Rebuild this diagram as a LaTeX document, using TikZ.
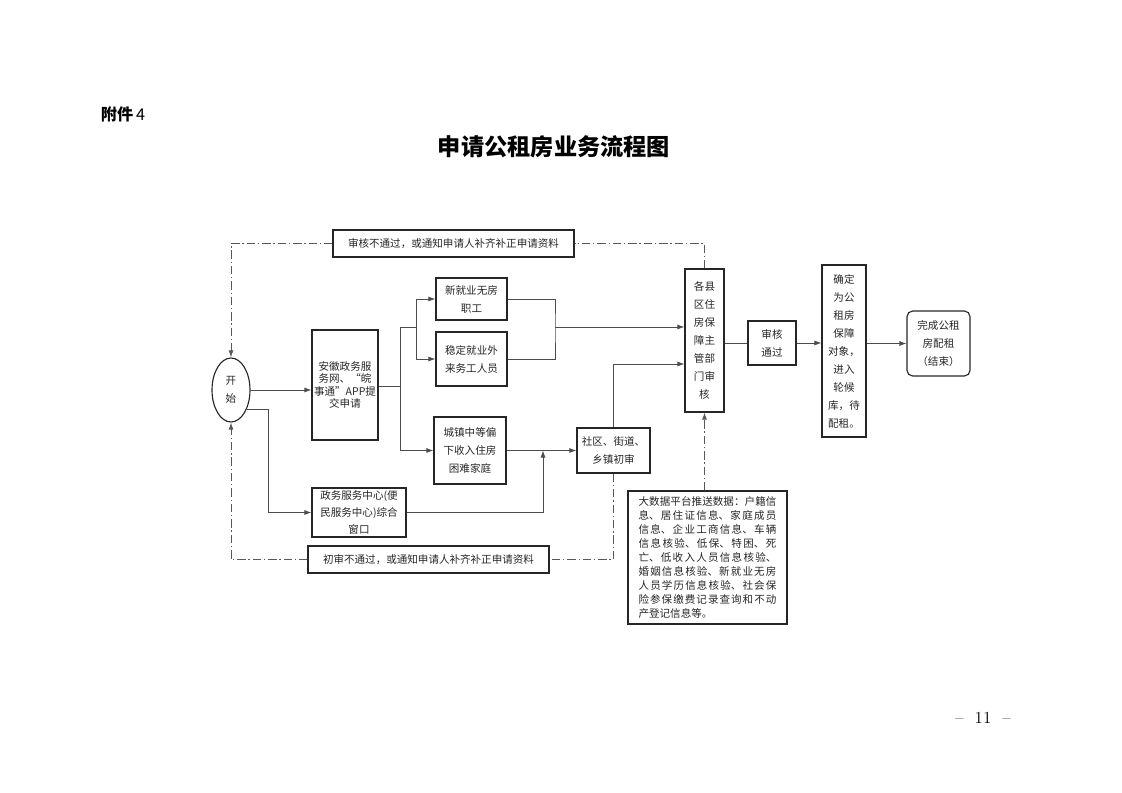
\documentclass[tikz,border=0pt]{standalone}
\usepackage{fontspec}
\newfontfamily\cjk{Noto Sans CJK SC}
\usetikzlibrary{shapes.geometric,arrows.meta}
\newcommand\cjkspread{\XeTeXlinebreaklocale "zh"\XeTeXlinebreakskip=0pt plus 3pt\relax}
\begin{document}
\begin{tikzpicture}[x=0.025cm,y=-0.025cm,
	conn/.style={draw=black!70,line width=0.6pt},
	arr/.style={conn,-{Latex[length=5pt,width=3.6pt]}},
	dashln/.style={draw=black!65,line width=0.6pt,dash pattern=on 6pt off 2pt on 1pt off 2pt},
	box/.style={draw=black!85,line width=0.8pt,inner sep=0pt,align=center,text=black!85,font=\cjk\fontsize{7.5pt}{12.8pt}\selectfont},
	wd/.style={minimum width=#1*0.025cm},
	ht/.style={minimum height=#1*0.025cm}]
	\useasboundingbox (0,0) rectangle (1122,793);
	% heading and page number
	\node[anchor=west,font=\cjk\bfseries\fontsize{11.5pt}{14pt}\selectfont] (fujian) at (96,114) {附件\,{\mdseries 4}};
	\node[font=\cjk\bfseries\fontsize{16.5pt}{20pt}\selectfont] (title) at (554,147) {申请公租房业务流程图};
	\node[font=\fontsize{12pt}{14pt}\selectfont] (page) at (983,718) {\textendash\ \ 11\ \ \textendash};
	% boxes
	\node[box,ellipse,wd=38,ht=64] (start) at (231,390) {开\\始};
	\node[box,wd=66,ht=110,font=\cjk\fontsize{7.5pt}{9pt}\selectfont] (anhui) at (345,385) {安徽政务服\\务网、“皖\\事通”APP提\\交申请};
	\node[box,wd=71,ht=42] (xinjy) at (471.5,299) {新就业无房\\职工};
	\node[box,wd=71,ht=54] (wending) at (471.5,359) {稳定就业外\\来务工人员};
	\node[box,wd=72,ht=67] (chengzhen) at (470,450.5) {城镇中等偏\\下收入住房\\困难家庭};
	\node[box,wd=73,ht=45] (shequ) at (613.5,450.5) {社区、街道、\\乡镇初审};
	\node[box,wd=94,ht=49,font=\cjk\fontsize{7.5pt}{12pt}\selectfont] (zhengwu) at (359,512.5) {政务服务中心(便\\民服务中心)综合\\窗口};
	\node[box,wd=39,ht=143] (gexian) at (704.5,340.5) {各县\\区住\\房保\\障主\\管部\\门审\\核};
	\node[box,wd=48,ht=44] (tongguo) at (772,343) {审核\\通过};
	\node[box,wd=44,ht=172] (queding) at (844,351) {确定\\为公\\租房\\保障\\对象，\\进入\\轮候\\库，待\\配租。};
	\node[box,wd=63,ht=65,rounded corners=4pt] (wancheng) at (938.5,343.5) {完成公租\\房配租\\（结束）};
	\node[box,wd=159,ht=133,text width=98pt,align=justify,font=\cjk\fontsize{7.5pt}{10pt}\selectfont] (dashuju) at (707.5,557.5) {\cjkspread 大数据平台推送数据：户籍信\linebreak 息、居住证信息、家庭成员\linebreak 信息、企业工商信息、车辆\linebreak 信息核验、低保、特困、死\linebreak 亡、低收入人员信息核验、\linebreak 婚姻信息核验、新就业无房\linebreak 人员学历信息核验、社会保\linebreak 险参保缴费记录查询和不动\linebreak 产登记信息等。};
	\node[box,wd=241,ht=27] (butong1) at (453.5,243.5) {审核不通过，或通知申请人补齐补正申请资料};
	\node[box,wd=241,ht=27] (butong2) at (428.5,559.5) {初审不通过，或通知申请人补齐补正申请资料};
	% branch points
	\coordinate (fen1) at (400,386);
	\coordinate (fen2) at (416,327);
	\coordinate (he1) at (555,327);
	\coordinate (he2) at (543,450.5);
	\coordinate (zhe) at (268,0);
	% connectors
	\draw[arr] (start.east) -- (start.east -| anhui.west);
	\draw[conn] (anhui.east |- fen1) -- (fen1);
	\draw[conn] (fen1) |- (fen2);
	\draw[arr] (fen1) |- (chengzhen.west);
	\draw[arr] (fen2) |- (xinjy.west);
	\draw[arr] (fen2) |- (wending.west);
	\draw[conn] (xinjy.east) -| (he1) |- (wending.east);
	\draw[arr] (he1) -- (he1 -| gexian.west);
	\draw[arr] (chengzhen.east) -- (shequ.west);
	\draw[arr] (shequ.north) |- (gexian.west |- 0,364);
	\draw[arr] (start.-50) -| (zhe |- zhengwu.west) -- (zhengwu.west);
	\draw[arr] (zhengwu.east) -| (he2);
	\draw[conn] (tongguo.west -| gexian.east) -- (tongguo.west);
	\draw[arr] (tongguo.east) -- (tongguo.east -| queding.west);
	\draw[arr] (wancheng.west -| queding.east) -- (wancheng.west);
	% returns and data push
	\draw[dashln] (gexian.north) |- (butong1.east);
	\draw[dashln,-{Latex[length=5pt,width=3.6pt]}] (butong1.west) -| (start.north);
	\draw[dashln] (shequ.south) |- (butong2.east);
	\draw[dashln,-{Latex[length=5pt,width=3.6pt]}] (butong2.west) -| (start.south);
	\draw[dashln,-{Latex[length=5pt,width=3.6pt]}] (gexian.south |- dashuju.north) -- (gexian.south);
\end{tikzpicture}
\end{document}
